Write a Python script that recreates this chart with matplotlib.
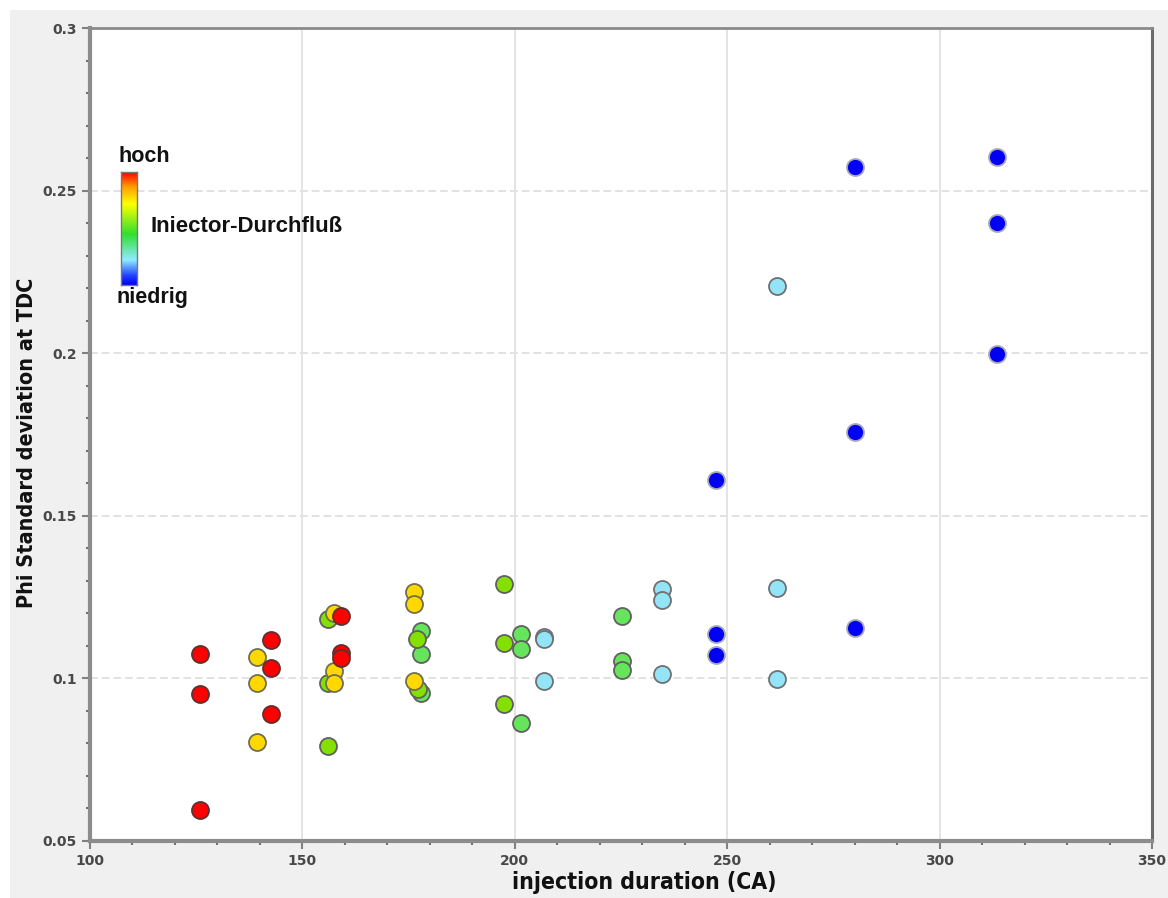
import numpy as np
import matplotlib
matplotlib.use('Agg')
import matplotlib.pyplot as plt
from matplotlib import font_manager
from matplotlib.colors import LinearSegmentedColormap
from matplotlib.patches import Rectangle
from matplotlib.ticker import MultipleLocator

# injection duration (CA) vs. Phi standard deviation, grouped by injector flow
red_x = [125.8, 125.8, 125.8, 142.5, 142.5, 142.5, 159.0, 159.0, 159.0]
red_y = [0.1076, 0.0951, 0.0595, 0.1117, 0.1032, 0.0890, 0.1191, 0.1078, 0.1064]
yellow_x = [139.3, 139.3, 139.3, 157.5, 157.5, 157.5, 176.3, 176.3, 176.3]
yellow_y = [0.1066, 0.0986, 0.0803, 0.1200, 0.1023, 0.0986, 0.1266, 0.1230, 0.0992]
lime_x = [156.1, 156.1, 156.1, 176.9, 177.1, 197.4, 197.4, 197.4]
lime_y = [0.1182, 0.0986, 0.0793, 0.1120, 0.0968, 0.1290, 0.1110, 0.0922]
green_x = [177.9, 177.9, 177.9, 201.5, 201.5, 201.5, 225.2, 225.2, 225.2]
green_y = [0.1145, 0.1076, 0.0956, 0.1136, 0.1089, 0.0863, 0.1192, 0.1053, 0.1027]
cyan_x = [206.8, 206.8, 206.8, 234.6, 234.6, 234.6, 261.8, 261.8, 261.8]
cyan_y = [0.1128, 0.1120, 0.0992, 0.1274, 0.1241, 0.1015, 0.2207, 0.1277, 0.0999]
blue_x = [247.4, 247.4, 247.4, 280.1, 280.1, 280.1, 313.6, 313.6, 313.6]
blue_y = [0.1611, 0.1136, 0.1073, 0.2574, 0.1759, 0.1154, 0.2602, 0.2401, 0.1997]

x_ticks = [100, 150, 200, 250, 300, 350]
y_ticks = [0.05, 0.1, 0.15, 0.2, 0.25, 0.3]
y_tick_labels = ['0.05', '0.1', '0.15', '0.2', '0.25', '0.3']

# pick a condensed bold font for the axis titles if one is around
names = {f.name for f in font_manager.fontManager.ttflist}
if 'Liberation Sans Narrow' in names:
    label_font = dict(family='Liberation Sans Narrow')
else:
    label_font = dict(family='DejaVu Sans', stretch='condensed')

fig = plt.figure(figsize=(11.68, 8.98), dpi=100, facecolor='white')
fig.patches.append(Rectangle((10 / 1168, 0), 1, 1 - 10 / 898, transform=fig.transFigure,
                             facecolor='#f0f0f0', edgecolor='none', zorder=-10))
ax = fig.add_axes([90 / 1168, 1 - 841 / 898, 1062 / 1168, 813 / 898])
ax.set_facecolor('white')

groups = [
    (blue_x, blue_y, '#0000f5', '#a8a8b8'),
    (cyan_x, cyan_y, '#94e4f8', '#707070'),
    (green_x, green_y, '#66e45c', '#606060'),
    (lime_x, lime_y, '#84e000', '#606060'),
    (yellow_x, yellow_y, '#ffd800', '#707050'),
    (red_x, red_y, '#ff0000', '#603030'),
]
for i, (gx, gy, fc, ec) in enumerate(groups):
    ax.scatter(gx, gy, s=150, c=fc, edgecolors=ec, linewidths=1.3, zorder=3 + i)

ax.set_xlim(100, 350)
ax.set_ylim(0.05, 0.3)
ax.set_xticks(x_ticks)
ax.set_yticks(y_ticks)
ax.set_yticklabels(y_tick_labels)
ax.xaxis.set_minor_locator(MultipleLocator(10))
ax.yaxis.set_minor_locator(MultipleLocator(0.01))
ax.tick_params(which='major', direction='out', length=6, width=1.5, color='#808080',
               labelsize=10, labelcolor='#484848')
ax.tick_params(which='minor', direction='out', length=3, width=1.5, color='#707070')
for lab in ax.get_xticklabels() + ax.get_yticklabels():
    lab.set_fontweight('bold')

for v in x_ticks[1:-1]:
    ax.axvline(v, color='#e4e4e4', lw=1.4, zorder=0)
for v in y_ticks[1:-1]:
    ax.axhline(v, color='#e2e2e2', lw=1.4, ls=(0, (4, 2)), zorder=0)

for side in ['left', 'bottom']:
    ax.spines[side].set_color('#8c8c8c')
    ax.spines[side].set_linewidth(3)
ax.spines['top'].set_color('#8a8a8a')
ax.spines['top'].set_linewidth(2)
ax.spines['right'].set_color('#6a6a6a')
ax.spines['right'].set_linewidth(2.2)

ax.set_xlabel('injection duration (CA)', fontsize=16.5, fontweight='bold', color='#111111', **label_font)
ax.set_ylabel('Phi Standard deviation at TDC', fontsize=15.5, fontweight='bold', color='#111111', **label_font)
ax.xaxis.set_label_coords(0.522, -0.037)
ax.yaxis.set_label_coords(-0.050, 0.49)

# colour legend (hoch -> niedrig)
cmap = LinearSegmentedColormap.from_list('flow', [
    (0.0, '#0000ff'), (0.08, '#2040ff'), (0.22, '#90ecff'), (0.45, '#30e030'),
    (0.72, '#ffff00'), (0.87, '#ffa000'), (1.0, '#ff0000')])
cax = fig.add_axes([121 / 1168, 1 - 285 / 898, 16 / 1168, 113 / 898])
cax.imshow(np.linspace(1, 0, 200).reshape(-1, 1), aspect='auto', cmap=cmap)
cax.set_xticks([])
cax.set_yticks([])
for s in cax.spines.values():
    s.set_color('#777777')
    s.set_linewidth(1)
fig.text(118 / 1168, 1 - 156 / 898, 'hoch', fontsize=15.5, fontweight='bold',
         family='Liberation Sans', va='center', ha='left', color='#111111')
fig.text(116 / 1168, 1 - 298 / 898, 'niedrig', fontsize=15.5, fontweight='bold',
         family='Liberation Sans', va='center', ha='left', color='#111111')
fig.text(150 / 1168, 1 - 226 / 898, 'Iniector-Durchfluß', fontsize=16, fontweight='bold',
         family='Liberation Sans', va='center', ha='left', color='#111111')

fig.savefig('out.png', dpi=100, facecolor=fig.get_facecolor())
